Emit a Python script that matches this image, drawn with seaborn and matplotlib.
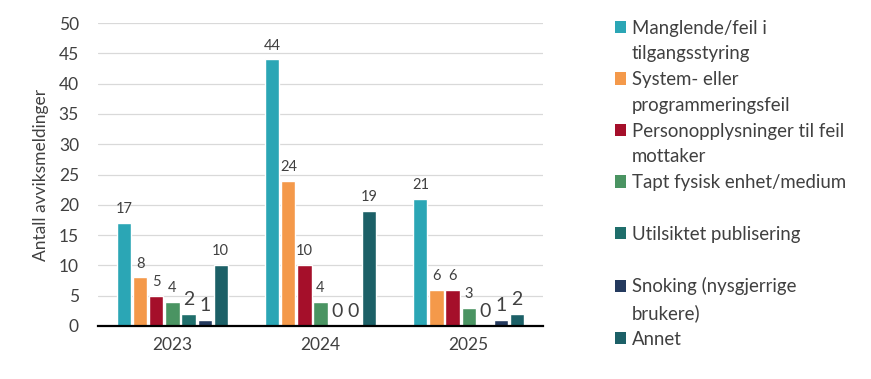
import numpy as np
import pandas as pd
import matplotlib
matplotlib.use("Agg")
import matplotlib.pyplot as plt
import matplotlib.patches as mpatches
import seaborn as sns

# ---------------------------------------------------------------------------
# Data
# ---------------------------------------------------------------------------
years = ["2023", "2024", "2025"]
categories = [
    "Manglende/feil i tilgangsstyring",
    "System- eller programmeringsfeil",
    "Personopplysninger til feil mottaker",
    "Tapt fysisk enhet/medium",
    "Utilsiktet publisering",
    "Snoking (nysgjerrige brukere)",
    "Annet",
]
# legend text, wrapped the way the original shows it
legend_lines = [
    ["Manglende/feil i", "tilgangsstyring"],
    ["System- eller", "programmeringsfeil"],
    ["Personopplysninger til feil", "mottaker"],
    ["Tapt fysisk enhet/medium", ""],
    ["Utilsiktet publisering", ""],
    ["Snoking (nysgjerrige", "brukere)"],
    ["Annet"],
]
values_2023 = [17, 8, 5, 4, 2, 1, 10]
values_2024 = [44, 24, 10, 4, 0, 0, 19]
values_2025 = [21, 6, 6, 3, 0, 1, 2]
colors = ["#2BA6B5", "#F4994A", "#A50F2A", "#4A9462", "#1F6E6B", "#243A5E", "#1C6067"]

df = pd.DataFrame({
    "year": np.repeat(years, len(categories)),
    "kategori": categories * len(years),
    "antall": values_2023 + values_2024 + values_2025,
})

# ---------------------------------------------------------------------------
# Plot
# ---------------------------------------------------------------------------
sns.set_style("white")
plt.rcParams["font.family"] = ["Lato", "DejaVu Sans"]
TXT = "#404040"

fig = plt.figure(figsize=(8.71, 3.79), dpi=100)
ax = fig.add_axes([0.113, 0.14, 0.51, 0.799])

sns.barplot(data=df, x="year", y="antall", hue="kategori", hue_order=categories,
            palette=colors, width=0.76, gap=0.12, saturation=1, ax=ax,
            legend=False)

for cont in ax.containers:
    for bar in cont:
        v = bar.get_height()
        small = v <= 2
        ax.annotate(f"{int(v)}", (bar.get_x() + bar.get_width() / 2, v),
                    xytext=(0, 4 if small else 5), textcoords="offset points",
                    ha="center", va="bottom", color=TXT,
                    fontsize=14 if small else 10.5)

ax.set_ylim(0, 50)
ax.set_yticks(range(0, 51, 5))
ax.set_xlim(-0.5, 2.5)
ax.yaxis.grid(True, color="#D9D9D9", linewidth=0.9)
ax.set_axisbelow(True)
for s in ["top", "right", "left"]:
    ax.spines[s].set_visible(False)
ax.spines["bottom"].set_color("#000000")
ax.spines["bottom"].set_linewidth(1.6)
ax.tick_params(axis="both", length=0, labelsize=12.5, labelcolor=TXT)
ax.tick_params(axis="y", pad=14)
ax.tick_params(axis="x", pad=8)
ax.set_xlabel("")
ax.set_ylabel("Antall avviksmeldinger", fontsize=12.5, color=TXT, labelpad=7)

# legend: one row per text line, marker only on the first line of each entry
handles, labels = [], []
for col, lines in zip(colors, legend_lines):
    for i, line in enumerate(lines):
        if i == 0:
            handles.append(mpatches.Patch(facecolor=col, edgecolor="none"))
        else:
            handles.append(mpatches.Patch(facecolor="none", edgecolor="none"))
        labels.append(line)
fig.legend(handles, labels, loc="upper left", bbox_to_anchor=(0.697, 0.968),
           frameon=False, fontsize=13.4, labelcolor=TXT,
           handlelength=0.62, handleheight=0.62, handletextpad=0.3,
           labelspacing=0.47, borderaxespad=0)

fig.savefig("out.png", dpi=100)
